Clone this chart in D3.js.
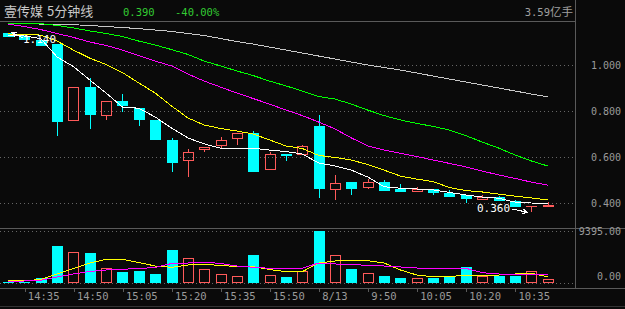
<!DOCTYPE html>
<html>
<head>
<meta charset="utf-8">
<script src="https://cdn.jsdelivr.net/npm/d3@7"></script>
<style>
body { margin: 0; background: #0a0a0a; }
svg { display: block; }
.mono { font-family: "DejaVu Sans Mono", monospace; }
.cjk { font-family: "Noto Sans CJK SC", sans-serif; }
line, path, rect { shape-rendering: crispEdges; }
</style>
</head>
<body>
<div id="chart"></div>
<script>
// 5 minute bars, two sessions
var times = ['14:30', '14:35', '14:40', '14:45', '14:50', '14:55', '15:00', '15:05', '15:10', '15:15',
    '15:20', '15:25', '15:30', '15:35', '15:40', '15:45', '15:50', '15:55', '16:00',
    '9:35', '9:40', '9:45', '9:50', '9:55', '10:00', '10:05', '10:10', '10:15', '10:20',
    '10:25', '10:30', '10:35', '10:40', '10:45'];
var open = [1.140, 1.126, 1.110, 1.090, 0.758, 0.904, 0.778, 0.843, 0.813, 0.761,
    0.674, 0.581, 0.632, 0.649, 0.680, 0.704, 0.542, 0.613, 0.610,
    0.735, 0.458, 0.491, 0.467, 0.491, 0.459, 0.447, 0.459, 0.445, 0.435,
    0.414, 0.427, 0.407, 0.385, 0.383];
var high = [1.140, 1.126, 1.110, 1.090, 0.903, 0.945, 0.843, 0.875, 0.813, 0.761,
    0.683, 0.635, 0.643, 0.686, 0.704, 0.713, 0.622, 0.613, 0.651,
    0.781, 0.523, 0.491, 0.503, 0.500, 0.481, 0.471, 0.459, 0.457, 0.435,
    0.433, 0.430, 0.413, 0.388, 0.405];
var low = [1.122, 1.110, 1.082, 0.693, 0.755, 0.722, 0.762, 0.795, 0.735, 0.675,
    0.536, 0.514, 0.623, 0.635, 0.653, 0.536, 0.542, 0.584, 0.610,
    0.423, 0.413, 0.436, 0.461, 0.451, 0.449, 0.447, 0.436, 0.428, 0.401,
    0.414, 0.410, 0.384, 0.360, 0.383];
var close = [1.122, 1.110, 1.082, 0.753, 0.903, 0.783, 0.843, 0.822, 0.762, 0.675,
    0.575, 0.620, 0.643, 0.674, 0.704, 0.536, 0.613, 0.604, 0.650,
    0.462, 0.487, 0.462, 0.491, 0.453, 0.449, 0.459, 0.445, 0.428, 0.418,
    0.426, 0.410, 0.384, 0.388, 0.390];
var volume = [235, 235, 958, 6739, 5601, 5420, 2656, 2042, 2168, 1680,
    5962, 4463, 2475, 1626, 1210, 5059, 1445, 1084, 2168,
    9395, 5059, 2529, 1753, 1265, 903, 849, 958, 1265, 2891,
    1265, 1319, 1319, 2114, 668];

// moving averages
var ma5 = [1.128, 1.126, 1.115, 1.035, 0.993, 0.935, 0.878, 0.817, 0.812, 0.774,
    0.726, 0.683, 0.657, 0.638, 0.638, 0.638, 0.630, 0.624, 0.613,
    0.574, 0.561, 0.543, 0.513, 0.471, 0.464, 0.461, 0.457, 0.446, 0.435,
    0.426, 0.421, 0.404, 0.400, 0.398];
var ma10 = [1.135, 1.133, 1.130, 1.104, 1.065, 1.030, 1.002, 0.967, 0.922, 0.878,
    0.822, 0.770, 0.739, 0.724, 0.713, 0.700, 0.674, 0.648, 0.637,
    0.607, 0.598, 0.587, 0.567, 0.543, 0.517, 0.504, 0.493, 0.467, 0.454,
    0.448, 0.439, 0.430, 0.422, 0.413];
var ma20 = [1.178, 1.167, 1.154, 1.137, 1.120, 1.100, 1.085, 1.065, 1.041, 1.017,
    0.996, 0.961, 0.930, 0.904, 0.878, 0.854, 0.830, 0.804, 0.780,
    0.752, 0.722, 0.683, 0.648, 0.630, 0.616, 0.602, 0.587, 0.572, 0.557,
    0.539, 0.522, 0.507, 0.491, 0.478];
var ma30 = [1.181, 1.181, 1.180, 1.172, 1.161, 1.148, 1.137, 1.124, 1.104, 1.087,
    1.067, 1.046, 1.017, 0.996, 0.974, 0.954, 0.930, 0.909, 0.887,
    0.863, 0.852, 0.830, 0.804, 0.780, 0.761, 0.746, 0.733, 0.717, 0.693,
    0.665, 0.639, 0.609, 0.583, 0.561];
var ma60 = [1.180, 1.180, 1.178, 1.177, 1.175, 1.172, 1.167, 1.163, 1.158, 1.152,
    1.146, 1.137, 1.128, 1.115, 1.102, 1.091, 1.078, 1.065, 1.052,
    1.039, 1.026, 1.013, 1.000, 0.989, 0.978, 0.965, 0.952, 0.939, 0.926,
    0.913, 0.900, 0.887, 0.874, 0.862];
var volMa5 = [416, 416, 632, 1626, 2620, 3613, 4282, 4282, 3704, 3071,
    2836, 3252, 3379, 3162, 2981, 2945, 2439, 2042, 2042,
    3613, 3975, 4029, 4029, 3613, 2349, 1445, 1138, 1138, 1445,
    1445, 1445, 1626, 1753, 1138];
var volMa10 = [235, 361, 488, 1084, 1626, 2078, 2349, 2475, 2620, 2800,
    3523, 3613, 3794, 3523, 3071, 2836, 2656, 2584, 2656,
    3613, 3433, 3379, 3162, 3071, 2891, 2710, 2656, 2656, 2656,
    1861, 1626, 1590, 1536, 1445];

var priceTicks = [1.0, 0.8, 0.6, 0.4];
var volTicks = [9395, 0];
var tickIdx = [1, 4, 7, 10, 13, 16, 19, 22, 25, 28, 31];
var tickLabels = ['14:35', '14:50', '15:05', '15:20', '15:35', '15:50', '8/13', '9:50', '10:05', '10:20', '10:35'];

var width = 625, height = 309;
var plotRight = 575;
var upColor = '#ff5a5a', downColor = '#00ffff';
var frameColor = '#5a5a5a', labelColor = '#9a9a9a';

var svg = d3.select('#chart').append('svg')
    .attr('width', width)
    .attr('height', height);

svg.append('rect').attr('width', width).attr('height', height).attr('fill', '#0a0a0a');

var x = d3.scalePoint().domain(d3.range(times.length)).range([8, 547.6]);
var y = d3.scaleLinear().domain([0.4, 1.0]).range([203, 65]);
var yv = d3.scaleLinear().domain([0, 9395]).range([283, 231]);

function px(v) { return Math.round(v) + 0.5; }

// frame
svg.append('line').attr('x1', 0).attr('x2', plotRight).attr('y1', 21.5).attr('y2', 21.5).attr('stroke', frameColor);
svg.append('line').attr('x1', 0).attr('x2', width).attr('y1', 228.5).attr('y2', 228.5).attr('stroke', frameColor);
svg.append('line').attr('x1', 0).attr('x2', width).attr('y1', 288.5).attr('y2', 288.5).attr('stroke', frameColor);
svg.append('line').attr('x1', 0).attr('x2', width).attr('y1', 306.5).attr('y2', 306.5).attr('stroke', '#333');
svg.append('line').attr('x1', plotRight + 0.5).attr('x2', plotRight + 0.5).attr('y1', 0).attr('y2', 288).attr('stroke', frameColor);

// dotted grid
svg.selectAll('.pgrid').data(priceTicks).enter().append('line')
    .attr('x1', 0).attr('x2', plotRight)
    .attr('y1', function (d) { return px(y(d)); })
    .attr('y2', function (d) { return px(y(d)); })
    .attr('stroke', '#666').attr('stroke-dasharray', '1,3');
svg.selectAll('.vgrid').data(volTicks).enter().append('line')
    .attr('x1', 0).attr('x2', plotRight)
    .attr('y1', function (d) { return px(yv(d)); })
    .attr('y2', function (d) { return px(yv(d)); })
    .attr('stroke', '#666').attr('stroke-dasharray', '1,3');

// right axes
var pAxis = svg.append('g').attr('class', 'mono').attr('transform', 'translate(621,0)')
    .call(d3.axisLeft(y).tickValues(priceTicks).tickFormat(d3.format('.3f')).tickSize(0).tickPadding(0));
var vAxis = svg.append('g').attr('class', 'mono').attr('transform', 'translate(621,0)')
    .call(d3.axisLeft(yv).tickValues(volTicks).tickFormat(d3.format('.2f')).tickSize(0).tickPadding(0));
vAxis.selectAll('.tick').filter(function (d) { return d === 0; }).select('text').attr('y', -7);
[pAxis, vAxis].forEach(function (g) {
    g.select('.domain').remove();
    g.selectAll('text').attr('fill', labelColor).style('font-size', '10px').style('font-family', '"DejaVu Sans Mono", monospace');
});

// x axis
var xAxis = svg.append('g').attr('transform', 'translate(0,288.5)')
    .call(d3.axisBottom(x).tickValues(tickIdx).tickSize(3).tickFormat(function (d, i) { return tickLabels[i]; }));
xAxis.select('.domain').remove();
xAxis.selectAll('line').attr('stroke', frameColor).attr('transform', 'translate(0.5,0)');
xAxis.selectAll('text').attr('fill', labelColor).attr('text-anchor', 'start').attr('x', 3).attr('y', 4)
    .style('font-size', '10.5px').style('font-family', '"DejaVu Sans Mono", monospace');

// moving averages
function drawLine(data, scale, color) {
    var line = d3.line()
        .x(function (d, i) { return x(i); })
        .y(function (d) { return scale(d); });
    svg.append('path').datum(data).attr('d', line)
        .attr('fill', 'none').attr('stroke', color).attr('stroke-width', 1);
}

// candles
var candles = svg.selectAll('.candle').data(d3.range(times.length)).enter().append('g');
candles.each(function (i) {
    var g = d3.select(this);
    var cx = Math.round(x(i));
    var up = close[i] > open[i];
    var col = up ? upColor : downColor;
    var top = Math.round(y(Math.max(open[i], close[i])));
    var bot = Math.round(y(Math.min(open[i], close[i])));
    if (bot - top < 1) bot = top + 1;
    var hy = Math.round(y(high[i])), ly = Math.round(y(low[i]));
    if (hy < top) g.append('line').attr('x1', cx + 0.5).attr('x2', cx + 0.5).attr('y1', hy).attr('y2', top).attr('stroke', col);
    if (ly > bot) g.append('line').attr('x1', cx + 0.5).attr('x2', cx + 0.5).attr('y1', bot).attr('y2', ly).attr('stroke', col);
    if (up && bot - top > 2) {
        g.append('rect').attr('x', cx - 5 + 0.5).attr('y', top + 0.5).attr('width', 10).attr('height', bot - top - 1)
            .attr('fill', 'none').attr('stroke', col);
    } else {
        g.append('rect').attr('x', cx - 5).attr('y', top).attr('width', 11).attr('height', bot - top).attr('fill', col);
    }
});

drawLine(ma60, y, '#c8c8c8');
drawLine(ma30, y, '#00ff00');
drawLine(ma20, y, '#ff00ff');
drawLine(ma10, y, '#ffff00');
drawLine(ma5, y, '#ffffff');

// volume bars
var vbars = svg.selectAll('.vbar').data(d3.range(times.length)).enter().append('g');
vbars.each(function (i) {
    var g = d3.select(this);
    var cx = Math.round(x(i));
    var up = close[i] > open[i];
    var top = Math.round(yv(volume[i]));
    var base = Math.round(yv(0));
    if (up) {
        g.append('rect').attr('x', cx - 5 + 0.5).attr('y', top + 0.5).attr('width', 10).attr('height', Math.max(base - top - 1, 1))
            .attr('fill', 'none').attr('stroke', upColor);
    } else {
        g.append('rect').attr('x', cx - 5).attr('y', top).attr('width', 11).attr('height', Math.max(base - top, 1)).attr('fill', downColor);
    }
});
drawLine(volMa5, yv, '#ffff00');
drawLine(volMa10, yv, '#ff00ff');

// high / low markers
var hiIdx = d3.maxIndex(high), loIdx = d3.minIndex(low);
function marker(idx, val, tx, ty, ax1, ay1) {
    var ax2 = x(idx) + (idx === hiIdx ? 4 : -4), ay2 = y(val);
    svg.append('line').attr('x1', ax1).attr('y1', ay1).attr('x2', ax2).attr('y2', ay2).attr('stroke', '#fff');
    var ang = Math.atan2(ay2 - ay1, ax2 - ax1);
    var p1 = [ax2 - 5 * Math.cos(ang - 0.5), ay2 - 5 * Math.sin(ang - 0.5)];
    var p2 = [ax2 - 5 * Math.cos(ang + 0.5), ay2 - 5 * Math.sin(ang + 0.5)];
    svg.append('path').attr('d', 'M' + p1 + 'L' + ax2 + ',' + ay2 + 'L' + p2).attr('fill', 'none').attr('stroke', '#fff');
    svg.append('text').attr('class', 'mono').attr('x', tx).attr('y', ty).attr('fill', '#fff')
        .style('font-size', '11px').text(d3.format('.3f')(val));
}
marker(hiIdx, high[hiIdx], 23, 42.5, 23, 38);
marker(loIdx, low[loIdx], 477, 212, 512, 209);

// title
svg.append('text').attr('class', 'cjk').attr('x', 4).attr('y', 16).attr('fill', '#c8c8c8')
    .style('font-size', '13px').text('壹传媒');
svg.append('text').attr('class', 'cjk').attr('x', 47).attr('y', 16).attr('fill', '#c8c8c8')
    .style('font-size', '13px').text('5分钟线');
svg.append('text').attr('class', 'mono').attr('x', 123).attr('y', 15.5).attr('fill', '#33cc33')
    .style('font-size', '10.5px').text(d3.format('.3f')(close[close.length - 1]));
svg.append('text').attr('class', 'mono').attr('x', 175).attr('y', 15.5).attr('fill', '#33cc33')
    .style('font-size', '10.5px').text(d3.format('.2%')(close[close.length - 1] / close[18] - 1).replace('−', '-'));
var vol = svg.append('text').attr('x', 573).attr('y', 15.5).attr('fill', '#a0a0a0').attr('text-anchor', 'end');
vol.append('tspan').attr('class', 'mono').style('font-size', '10.5px').text('3.59');
vol.append('tspan').attr('class', 'cjk').style('font-size', '11.5px').text('亿手');
</script>
</body>
</html>
